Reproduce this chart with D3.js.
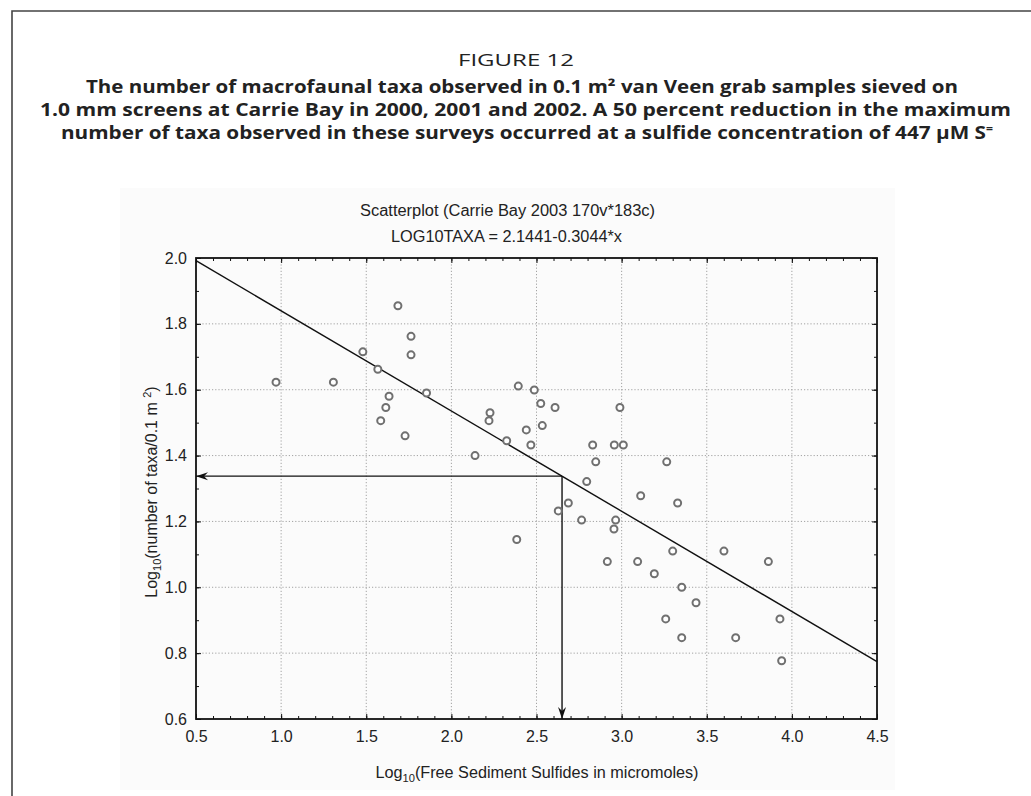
<!DOCTYPE html>
<html>
<head>
<meta charset="utf-8">
<script src="https://cdn.jsdelivr.net/npm/d3@7"></script>
<style>
  html, body { margin: 0; padding: 0; background: #fff; }
  svg { display: block; }
</style>
</head>
<body>
<script>
// log10 sulfide (x) and log10 taxa (y)
const sulfide = [0.97, 1.307, 1.48, 1.568, 1.686, 1.763, 1.763, 1.634, 1.854, 1.615, 1.585, 1.728,
  2.139, 2.227, 2.221, 2.325, 2.393, 2.487, 2.525, 2.609, 2.990, 2.44, 2.534, 2.467, 2.830, 2.957,
  3.010, 2.848, 3.265, 2.795, 3.112, 3.329, 2.687, 2.628, 2.765, 2.965, 2.955, 2.384, 3.30, 3.601,
  2.916, 3.094, 3.862, 3.192, 3.353, 3.437, 3.259, 3.930, 3.353, 3.670, 3.940];
const taxa = [1.623, 1.623, 1.715, 1.662, 1.855, 1.762, 1.706, 1.58, 1.590, 1.546, 1.506, 1.46,
  1.40, 1.53, 1.506, 1.445, 1.611, 1.599, 1.558, 1.546, 1.546, 1.478, 1.491, 1.432, 1.432, 1.432,
  1.432, 1.381, 1.381, 1.321, 1.278, 1.256, 1.256, 1.232, 1.204, 1.204, 1.177, 1.145, 1.110, 1.110,
  1.078, 1.078, 1.078, 1.041, 1.0, 0.953, 0.904, 0.904, 0.847, 0.847, 0.777];

const intercept = 2.1441, slope = -0.3044;
const xCut = 2.65; // log10(447 uM)

const xTicks = [0.5, 1.0, 1.5, 2.0, 2.5, 3.0, 3.5, 4.0, 4.5];
const yTicks = [0.6, 0.8, 1.0, 1.2, 1.4, 1.6, 1.8, 2.0];

const W = 1031, H = 796;
const plot = { left: 196, right: 877, top: 258, bottom: 719 };

const svg = d3.select('body').append('svg')
  .attr('width', W)
  .attr('height', H);

// outer figure frame (runs off right and bottom)
svg.append('path')
  .attr('d', `M12,${H + 2} L12,11 L${W + 2},11`)
  .attr('fill', 'none')
  .attr('stroke', '#444')
  .attr('stroke-width', 1.6);

// heading
const head = svg.append('g')
  .attr('font-family', '"Open Sans", "Noto Sans", sans-serif')
  .attr('fill', '#222')
  .attr('text-anchor', 'middle');

head.append('text')
  .attr('x', 516).attr('y', 66)
  .attr('font-size', 17)
  .attr('textLength', 116).attr('lengthAdjust', 'spacingAndGlyphs')
  .text('FIGURE 12');

const headLines = [
  { y: 93, x0: 86, x1: 958, t: 'The number of macrofaunal taxa observed in 0.1 m\u00B2 van Veen grab samples sieved on' },
  { y: 116, x0: 40, x1: 1011, t: '1.0 mm screens at Carrie Bay in 2000, 2001 and 2002. A 50 percent reduction in the maximum' }
];
headLines.forEach(l => {
  head.append('text')
    .attr('x', (l.x0 + l.x1) / 2).attr('y', l.y)
    .attr('font-size', 17).attr('font-weight', 'bold')
    .attr('textLength', l.x1 - l.x0).attr('lengthAdjust', 'spacingAndGlyphs')
    .text(l.t);
});
const line3 = head.append('text')
  .attr('x', 527).attr('y', 139)
  .attr('font-size', 17).attr('font-weight', 'bold')
  .attr('textLength', 932).attr('lengthAdjust', 'spacingAndGlyphs');
line3.append('tspan').text('number of taxa observed in these surveys occurred at a sulfide concentration of 447 \u00B5M S');
line3.append('tspan').attr('font-size', 10).attr('dy', -7).text('=');

// faint chart panel
svg.append('rect')
  .attr('x', 120).attr('y', 188)
  .attr('width', 775).attr('height', 602)
  .attr('fill', '#fbfbfb');

const x = d3.scaleLinear().domain([0.5, 4.5]).range([plot.left, plot.right]);
const y = d3.scaleLinear().domain([0.6, 2.0]).range([plot.bottom, plot.top]);

const font = '"Liberation Sans", Arial, sans-serif';

// chart titles (centred on the panel)
svg.append('text')
  .attr('x', 507.5).attr('y', 216)
  .attr('text-anchor', 'middle')
  .attr('font-family', font).attr('font-size', 16).attr('fill', '#222')
  .attr('textLength', 295).attr('lengthAdjust', 'spacingAndGlyphs')
  .text('Scatterplot (Carrie Bay 2003 170v*183c)');
svg.append('text')
  .attr('x', 506.5).attr('y', 242)
  .attr('text-anchor', 'middle')
  .attr('font-family', font).attr('font-size', 16).attr('fill', '#222')
  .attr('textLength', 231).attr('lengthAdjust', 'spacingAndGlyphs')
  .text('LOG10TAXA = 2.1441-0.3044*x');

// grid
const grid = svg.append('g')
  .attr('stroke', '#999')
  .attr('stroke-width', 0.9)
  .attr('stroke-dasharray', '1.2,2');
grid.selectAll('.gx')
  .data(xTicks.slice(1, -1))
  .join('line')
  .attr('x1', d => x(d)).attr('x2', d => x(d))
  .attr('y1', plot.top).attr('y2', plot.bottom);
grid.selectAll('.gy')
  .data(yTicks.slice(1, -1))
  .join('line')
  .attr('y1', d => y(d)).attr('y2', d => y(d))
  .attr('x1', plot.left).attr('x2', plot.right);

// axes: minor ticks every 0.1, longer major ticks, all pointing inward
const minorX = d3.range(5, 46).map(d => d / 10);
const minorY = d3.range(6, 21).map(d => d / 10);

function styleAxis(sel) {
  sel.selectAll('.domain').remove();
  sel.selectAll('.tick line').attr('stroke', '#111').attr('stroke-width', 1);
  sel.attr('font-size', 16).attr('font-family', font);
  sel.selectAll('text').attr('fill', '#222');
}

svg.append('g')
  .attr('transform', `translate(0,${plot.bottom})`)
  .call(d3.axisBottom(x).tickValues(minorX).tickSize(-3).tickFormat(''))
  .call(styleAxis);
svg.append('g')
  .attr('transform', `translate(0,${plot.bottom})`)
  .call(d3.axisBottom(x).tickValues(xTicks).tickSizeInner(-5).tickSizeOuter(0).tickPadding(12)
    .tickFormat(d3.format('.1f')))
  .call(styleAxis);
svg.append('g')
  .attr('transform', `translate(0,${plot.top})`)
  .call(d3.axisTop(x).tickValues(minorX).tickSize(-3).tickFormat(''))
  .call(styleAxis);
svg.append('g')
  .attr('transform', `translate(0,${plot.top})`)
  .call(d3.axisTop(x).tickValues(xTicks).tickSize(-5).tickFormat(''))
  .call(styleAxis);

svg.append('g')
  .attr('transform', `translate(${plot.left},0)`)
  .call(d3.axisLeft(y).tickValues(minorY).tickSize(-3).tickFormat(''))
  .call(styleAxis);
svg.append('g')
  .attr('transform', `translate(${plot.left},0)`)
  .call(d3.axisLeft(y).tickValues(yTicks).tickSizeInner(-5).tickSizeOuter(0).tickPadding(9)
    .tickFormat(d3.format('.1f')))
  .call(styleAxis);
svg.append('g')
  .attr('transform', `translate(${plot.right},0)`)
  .call(d3.axisRight(y).tickValues(minorY).tickSize(-3).tickFormat(''))
  .call(styleAxis);
svg.append('g')
  .attr('transform', `translate(${plot.right},0)`)
  .call(d3.axisRight(y).tickValues(yTicks).tickSize(-5).tickFormat(''))
  .call(styleAxis);

// plot frame
svg.append('rect')
  .attr('x', plot.left).attr('y', plot.top)
  .attr('width', plot.right - plot.left).attr('height', plot.bottom - plot.top)
  .attr('fill', 'none')
  .attr('stroke', '#111')
  .attr('stroke-width', 1.8);

// regression line
svg.append('line')
  .attr('x1', x(0.5)).attr('y1', y(intercept + slope * 0.5))
  .attr('x2', x(4.5)).attr('y2', y(intercept + slope * 4.5))
  .attr('stroke', '#111')
  .attr('stroke-width', 1.4);

// arrows at the 50 percent point
svg.append('defs').append('marker')
  .attr('id', 'head')
  .attr('viewBox', '0 0 12 10')
  .attr('refX', 12).attr('refY', 5)
  .attr('markerWidth', 12).attr('markerHeight', 10)
  .attr('markerUnits', 'userSpaceOnUse')
  .attr('orient', 'auto')
  .append('path')
  .attr('d', 'M0,1 L12,5 L0,9 L4,5 Z')
  .attr('fill', '#111');

const yCut = intercept + slope * xCut;
svg.append('line')
  .attr('x1', x(xCut)).attr('y1', y(yCut))
  .attr('x2', x(0.5)).attr('y2', y(yCut))
  .attr('stroke', '#111').attr('stroke-width', 1.4)
  .attr('marker-end', 'url(#head)');
svg.append('line')
  .attr('x1', x(xCut)).attr('y1', y(yCut))
  .attr('x2', x(xCut)).attr('y2', y(0.6))
  .attr('stroke', '#111').attr('stroke-width', 1.4)
  .attr('marker-end', 'url(#head)');

// points
svg.append('g')
  .selectAll('circle')
  .data(sulfide.map((d, i) => [d, taxa[i]]))
  .join('circle')
  .attr('cx', d => x(d[0]))
  .attr('cy', d => y(d[1]))
  .attr('r', 3.5)
  .attr('fill', '#fff')
  .attr('stroke', '#707070')
  .attr('stroke-width', 2);

// axis titles
const xt = svg.append('text')
  .attr('x', 537).attr('y', 778)
  .attr('text-anchor', 'middle')
  .attr('font-family', font).attr('font-size', 16).attr('fill', '#222')
  .attr('textLength', 323).attr('lengthAdjust', 'spacingAndGlyphs');
xt.append('tspan').text('Log');
xt.append('tspan').attr('font-size', 11).attr('dy', 4).text('10');
xt.append('tspan').attr('dy', -4).text('(Free Sediment Sulfides in micromoles)');

const yt = svg.append('text')
  .attr('transform', 'translate(157,492) rotate(-90)')
  .attr('text-anchor', 'middle')
  .attr('font-family', font).attr('font-size', 16).attr('fill', '#222');
yt.append('tspan').text('Log');
yt.append('tspan').attr('font-size', 11).attr('dy', 4).text('10');
yt.append('tspan').attr('dy', -4).text('(number of taxa/0.1 m  ');
yt.append('tspan').attr('font-size', 11).attr('dy', -6).text('2');
yt.append('tspan').attr('dy', 6).text(')');
</script>
</body>
</html>
